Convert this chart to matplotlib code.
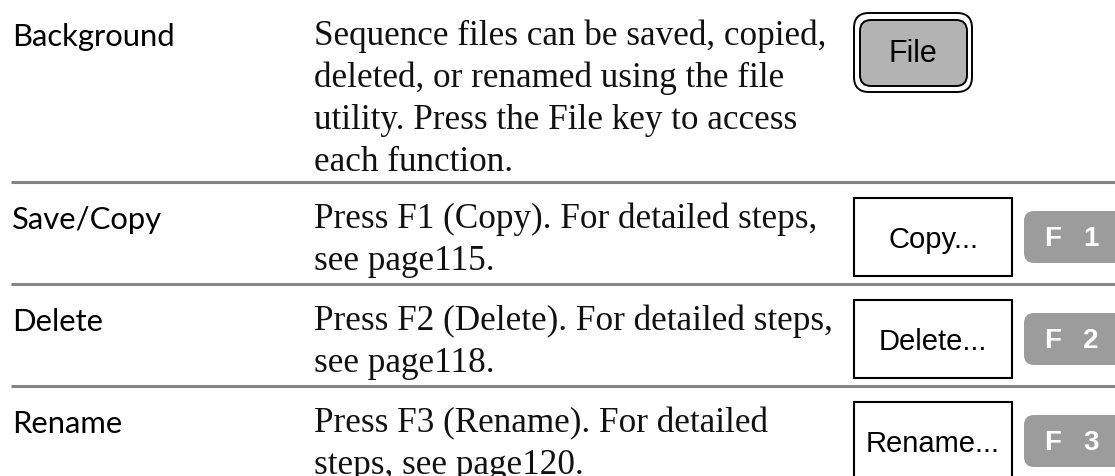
import matplotlib
matplotlib.use("Agg")
import matplotlib.pyplot as plt
from matplotlib.patches import FancyBboxPatch, Rectangle

# Table content
labels = ["Background", "Save/Copy", "Delete", "Rename"]
descriptions = [
    ["Sequence files can be saved, copied,",
     "deleted, or renamed using the file",
     "utility. Press the File key to access",
     "each function."],
    ["Press F1 (Copy). For detailed steps,", "see page115."],
    ["Press F2 (Delete). For detailed steps,", "see page118."],
    ["Press F3 (Rename). For detailed", "steps, see page120."],
]
menu_items = ["Copy...", "Delete...", "Rename..."]
soft_keys = ["1", "2", "3"]
front_key = "File"

W, H = 1115, 477
fig = plt.figure(figsize=(W / 100, H / 100), dpi=100)
ax = fig.add_axes([0, 0, 1, 1])
ax.set_xlim(0, W)
ax.set_ylim(H, 0)
ax.axis("off")

renderer = fig.canvas.get_renderer()


def fit_size(s, family, target, start=20):
    t = ax.text(0, 0, s, family=family, fontsize=start)
    w = t.get_window_extent(renderer).width
    t.remove()
    return start * target / w


body_size = fit_size(descriptions[0][0], "Liberation Serif", 513)
label_size = fit_size("Save/Copy", "Lato", 150)

row_top = [0, 183, 285, 387]
line_gap = 42

for i, (lab, lines) in enumerate(zip(labels, descriptions)):
    base = row_top[i] + 45
    ax.text(12, base + 1, lab, family="Lato", fontsize=label_size,
            va="baseline", ha="left", color="black")
    for j, ln in enumerate(lines):
        ax.text(314, base + j * line_gap, ln, family="Liberation Serif",
                fontsize=body_size, va="baseline", ha="left", color="#111111")
    if i > 0:
        ax.plot([11, W], [row_top[i], row_top[i]], color="#858585", lw=2.2,
                solid_capstyle="butt")

# File key (double rounded border)
ax.add_patch(FancyBboxPatch((854, 14), 118, 79,
                            boxstyle="round,pad=0,rounding_size=15",
                            fc="white", ec="black", lw=1.4))
ax.add_patch(FancyBboxPatch((860, 21), 107, 66,
                            boxstyle="round,pad=0,rounding_size=11",
                            fc="#b3b3b3", ec="black", lw=1.4))
ax.text(913, 54, front_key, family="Liberation Sans", fontsize=22,
        ha="center", va="center", color="black")

# Menu boxes and soft keys
box_tops = [199, 301, 403]
key_tops = [212, 314, 416]
for k in range(3):
    ax.add_patch(Rectangle((854, box_tops[k]), 158, 78, fc="white",
                           ec="black", lw=1.5))
    ax.text(933, box_tops[k] + 41, menu_items[k], family="Liberation Sans",
            fontsize=21, ha="center", va="center", color="black")
    ax.add_patch(FancyBboxPatch((1024, key_tops[k]), 120, 52,
                                boxstyle="round,pad=0,rounding_size=10",
                                fc="#9c9c9c", ec="none"))
    ax.text(1053, key_tops[k] + 27, "F", family="Liberation Sans",
            fontsize=20, fontweight="bold", ha="center", va="center",
            color="white")
    ax.text(1091, key_tops[k] + 27, soft_keys[k], family="Liberation Sans",
            fontsize=20, fontweight="bold", ha="center", va="center",
            color="white")

fig.savefig("out.png", dpi=100)
